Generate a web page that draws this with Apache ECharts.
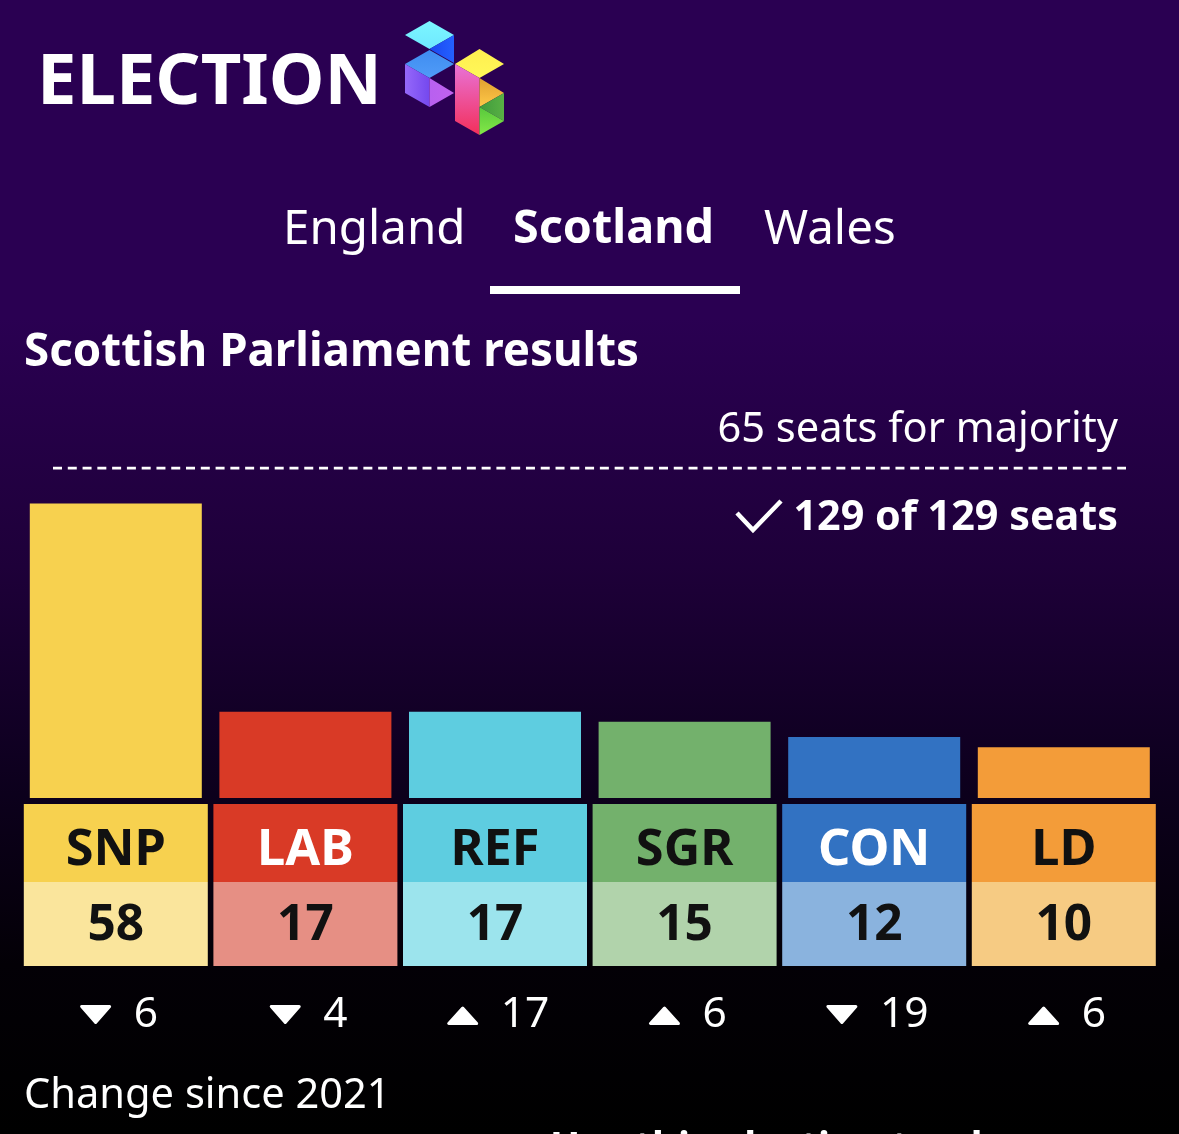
<!DOCTYPE html>
<html><head><meta charset="utf-8">
<style>html,body{margin:0;padding:0;background:#000}#c{width:1179px;height:1134px}</style>
<script src="https://cdn.jsdelivr.net/npm/echarts@6/dist/echarts.min.js"></script>
</head><body><div id="c"></div>
<script>
const parties = ['SNP','LAB','REF','SGR','CON','LD'];
const seats = [58,17,17,15,12,10];
const changes = [-6,-4,17,6,-19,6];
const barColors = ['#f7d14f','#d93a26','#5ecde0','#73b16c','#3272c2','#f39c39'];
const lightColors = ['#fae59c','#e68f84','#9ce4ed','#b1d3ab','#8ab3de','#f6cb83'];
const headText = ['#111111','#ffffff','#111111','#111111','#ffffff','#111111'];
const majority = 65;
const FONT = '"Noto Sans"';

const tri = (up) => 'data:image/svg+xml;utf8,' + encodeURIComponent(
 '<svg xmlns="http://www.w3.org/2000/svg" width="34" height="24" viewBox="0 0 34 24">' +
 '<path d="' + (up ? 'M3 20.5L31 20.5L17 5Z' : 'M3 3.5L31 3.5L17 19.5Z') +
 '" fill="#fff" stroke="#fff" stroke-width="3" stroke-linejoin="round"/></svg>');

const rich = {
  sp:{width:5,height:24},
  up:{width:34,height:24,backgroundColor:{image:tri(true)}},
  down:{width:34,height:24,backgroundColor:{image:tri(false)}},
  ch:{color:'#fff',fontFamily:FONT,fontSize:42.5,height:56,padding:[0,0,0,21],lineHeight:56},
  gap:{height:21,lineHeight:21,fontSize:10,color:'transparent'}
};
parties.forEach((p,i)=>{
  rich['h'+i]={width:184,height:62,lineHeight:78,padding:[16,0,0,0],align:'center',backgroundColor:barColors[i],color:headText[i],fontFamily:FONT,fontWeight:'bold',fontSize:50.5};
  rich['v'+i]={width:184,height:80,lineHeight:84,padding:[4,0,0,0],align:'center',backgroundColor:lightColors[i],color:'#111',fontFamily:FONT,fontWeight:'bold',fontSize:49.5};
});

const gtext=(x,y,t,size,weight,align)=>({type:'text',x,y,silent:true,style:{text:t,fill:'#fff',font:(weight||'normal')+' '+size+'px '+FONT,textAlign:align||'left',textVerticalAlign:'middle'}});
const poly=(pts,fill)=>({type:'polygon',silent:true,shape:{points:pts},style:{fill}});
const vg=(a,b)=>({type:'linear',x:0,y:0,x2:0,y2:1,colorStops:[{offset:0,color:a},{offset:1,color:b}]});
const hg=(a,b)=>({type:'linear',x:0,y:0,x2:1,y2:0,colorStops:[{offset:0,color:a},{offset:1,color:b}]});

const chart = echarts.init(document.getElementById('c'),null,{renderer:'canvas'});
chart.setOption({
  animation:false,
  backgroundColor:{type:'linear',x:0,y:0,x2:0,y2:1,colorStops:[
    {offset:0,color:'#2a0052'},{offset:0.28,color:'#2a0052'},{offset:0.5,color:'#1e0039'},{offset:0.7,color:'#0c001c'},{offset:0.85,color:'#030006'},{offset:1,color:'#000000'}]},
  grid:{left:21,top:468,width:1137.6,height:330},
  xAxis:[{type:'category',data:parties,axisLine:{show:false},axisTick:{show:false},
    axisLabel:{interval:0,margin:6,hideOverlap:false,verticalAlign:'top',rich,
      formatter:(p,i)=>{const c=changes[i];return `{h${i}|${p}}\n{v${i}|${seats[i]}}\n{gap| }\n{sp|}{${c<0?'down':'up'}|}{ch|${Math.abs(c)}}`;}}},
    {type:'value',show:false,min:21,max:1158.6,position:'top'}],
  yAxis:{type:'value',min:0,max:65,interval:65,show:false,splitLine:{show:false}},
  series:[
    {type:'bar',data:seats.map((v,i)=>({value:v,itemStyle:{color:barColors[i]}})),barWidth:172,silent:true},
    {type:'line',xAxisIndex:1,data:[[53,majority],[1126,majority]],symbol:'none',silent:true,
      lineStyle:{color:'#fff',width:3,type:[9,5.78]}}
  ],
  graphic:[
    gtext(37,84,'ELECTION',70.5,'bold'),
    poly([[405,35],[429.5,21],[454,35],[429.5,49]],vg('#7cf6ff','#6fe8ff')),
    poly([[454,35],[454,63],[429.5,49]],hg('#1a48f0','#2460ff')),
    poly([[405,64],[429.5,50],[454,64],[429.5,78]],vg('#3f8cf0','#509cf8')),
    poly([[405,64],[429.5,78],[429.5,107],[405,93]],hg('#9568fa','#7448ee')),
    poly([[429.5,78],[454,93],[429.5,107]],hg('#b860f0','#c062ee')),
    poly([[455,64],[479.5,49],[504,64],[479.5,78]],vg('#ffee50','#fff858')),
    poly([[455,64],[479.5,78],[479.5,135],[455,121]],vg('#e873d8','#f32f5a')),
    poly([[479.5,78],[504,93],[479.5,107]],vg('#e0a030','#ffc848')),
    poly([[504,93],[504,121],[479.5,107]],hg('#409a3c','#58b044')),
    poly([[479.5,107],[504,121],[479.5,135]],vg('#58c83c','#84e848')),
    gtext(283,230,'England',47.5),
    gtext(513,230,'Scotland',46.7,'bold'),
    gtext(764,230,'Wales',47.5),
    {type:'rect',silent:true,shape:{x:490,y:286,width:250,height:8},style:{fill:'#fff'}},
    gtext(24,353,'Scottish Parliament results',45.7,'bold'),
    gtext(1118,430,'65 seats for majority',41.6,'normal','right'),
    gtext(1118,518,'129 of 129 seats',41.3,'bold','right'),
    {type:'polyline',silent:true,shape:{points:[[737,513],[753,530],[781,501]]},style:{stroke:'#fff',lineWidth:4.5,fill:null}},
    gtext(24,1096,'Change since 2021',41.6),
    gtext(550,1149,'Use this election tracker',40,'bold')
  ]
});
</script></body></html>
